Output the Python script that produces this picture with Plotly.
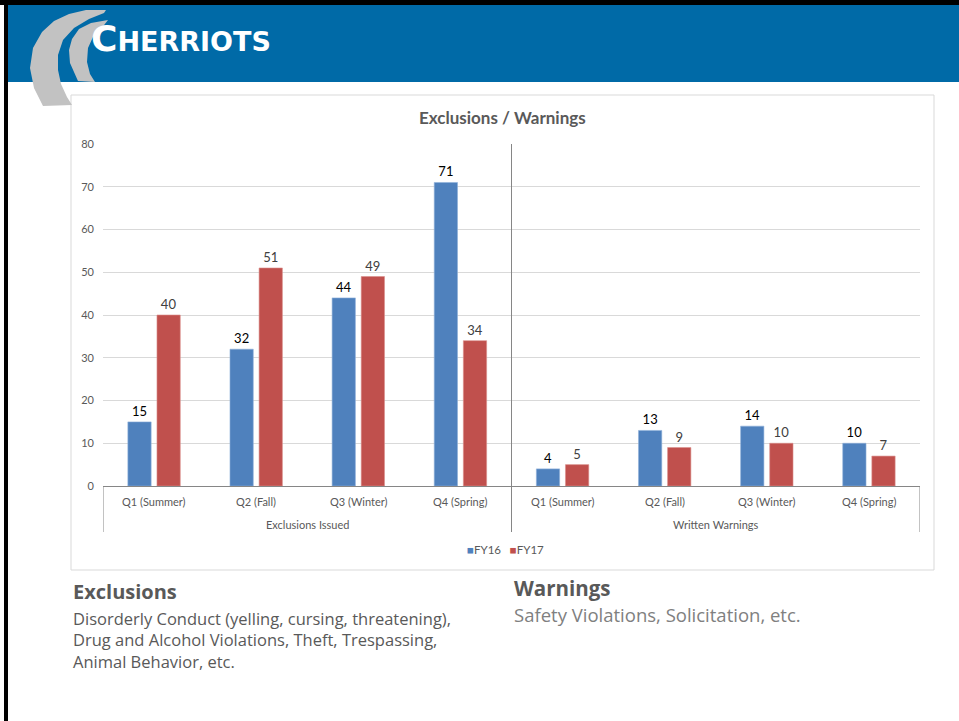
import plotly.graph_objects as go

# ---------------- data ----------------
quarters = ["Q1 (Summer)", "Q2 (Fall)", "Q3 (Winter)", "Q4 (Spring)"]
groups = ["Exclusions Issued", "Written Warnings"]
fy16_exclusions = [15, 32, 44, 71]
fy17_exclusions = [40, 51, 49, 34]
fy16_warnings = [4, 13, 14, 10]
fy17_warnings = [5, 9, 10, 7]
series_names = ["FY16", "FY17"]
series_colors = ["#4F81BD", "#C0504D"]
y_ticks = [0, 10, 20, 30, 40, 50, 60, 70, 80]

W, H = 959, 721


def px(x):
    return x / W


def py(y):
    return 1 - y / H


# unique category ids (group + quarter); displayed labels are added as text below
cat_ids = [f"{g} | {q}" for g in groups for q in quarters]
cat_labels = quarters + quarters
fy16 = fy16_exclusions + fy16_warnings
fy17 = fy17_exclusions + fy17_warnings

fig = go.Figure()
fig.add_trace(go.Bar(
    x=cat_ids, y=fy16, name=series_names[0],
    marker=dict(color=series_colors[0], line=dict(color="#8FB0DA", width=0.6)),
    text=[str(v) for v in fy16], textposition="outside",
    textfont=dict(family="Lato, Open Sans, sans-serif", size=13, color="#000000"),
    cliponaxis=False,
))
fig.add_trace(go.Bar(
    x=cat_ids, y=fy17, name=series_names[1],
    marker=dict(color=series_colors[1], line=dict(color="#DA8E8C", width=0.6)),
    text=[str(v) for v in fy17], textposition="outside",
    textfont=dict(family="Lato, Open Sans, sans-serif", size=13, color="#404040"),
    cliponaxis=False,
))

shapes = []
# black frame lines
shapes.append(dict(type="rect", xref="paper", yref="paper", x0=px(0), x1=px(959), y0=py(0), y1=py(5),
                   fillcolor="#000000", line=dict(width=0), layer="below"))
shapes.append(dict(type="rect", xref="paper", yref="paper", x0=px(4), x1=px(8), y0=py(0), y1=py(721),
                   fillcolor="#000000", line=dict(width=0), layer="below"))
# blue banner
shapes.append(dict(type="rect", xref="paper", yref="paper", x0=px(8), x1=px(959), y0=py(5), y1=py(82),
                   fillcolor="#006AA7", line=dict(width=0), layer="below"))
# chart box
shapes.append(dict(type="rect", xref="paper", yref="paper", x0=px(71), x1=px(934), y0=py(95), y1=py(570),
                   fillcolor="#FFFFFF", line=dict(color="#D9D9D9", width=1), layer="below"))

# group dividers (category boundaries)
n_per_group = len(quarters)
boundaries = [-0.5 + k * n_per_group for k in range(len(groups) + 1)]
for k, b in enumerate(boundaries):
    top = py(144) if 0 < k < len(groups) else py(486)
    shapes.append(dict(type="line", xref="x", yref="paper", x0=b, x1=b, y0=py(532), y1=top,
                       line=dict(color="#868686", width=1)))


def path_from(points):
    return "M " + " L ".join(f"{px(x):.5f},{py(y):.5f}" for x, y in points) + " Z"


# logo crescents (gray swooshes)
big = [(43, 106), (34, 88), (30, 68), (33, 48), (42, 32), (54, 21), (69, 14), (86, 10), (106, 10),
       (104, 13), (89, 19), (74, 28), (63, 40), (58, 55), (58, 70), (61, 84), (67, 97), (72, 105)]
small = [(78, 81), (70, 63), (69, 50), (72, 39), (79, 29), (91, 23), (108, 20),
         (101, 29), (93, 37), (88, 48), (87, 62), (90, 74), (95, 82)]
for pts in (big, small):
    shapes.append(dict(type="path", xref="paper", yref="paper", path=path_from(pts),
                       fillcolor="#C2C2C2", line=dict(width=0), layer="above"))

annotations = []
annotations.append(dict(xref="paper", yref="paper", x=px(89), y=py(39), xanchor="left", yanchor="middle",
                        text="<b><span style='font-size:36px'>C</span>HERRIOTS</b>", showarrow=False,
                        font=dict(family="DejaVu Sans", size=27, color="#FFFFFF")))
annotations.append(dict(xref="paper", yref="paper", x=px(502), y=py(117), xanchor="center", yanchor="middle",
                        text="<b>Exclusions / Warnings</b>", showarrow=False,
                        font=dict(family="Lato, Open Sans, sans-serif", size=17, color="#595959")))
# category labels
for cid, lab in zip(cat_ids, cat_labels):
    annotations.append(dict(xref="x", yref="paper", x=cid, y=py(501), xanchor="center", yanchor="middle",
                            text=lab, showarrow=False,
                            font=dict(family="Lato, Open Sans, sans-serif", size=11, color="#595959")))
# group labels
for k, g in enumerate(groups):
    annotations.append(dict(xref="x", yref="paper", x=(boundaries[k] + boundaries[k + 1]) / 2, y=py(524),
                            xanchor="center", yanchor="middle", text=g, showarrow=False,
                            font=dict(family="Lato, Open Sans, sans-serif", size=11, color="#595959")))
# legend (drawn as text)
annotations.append(dict(xref="paper", yref="paper", x=px(505), y=py(549), xanchor="center", yanchor="middle",
                        text=(f"<span style='color:{series_colors[0]}'>■</span>{series_names[0]}"
                              f"   <span style='color:{series_colors[1]}'>■</span>{series_names[1]}"),
                        showarrow=False,
                        font=dict(family="Lato, Open Sans, sans-serif", size=11.5, color="#595959")))
# bottom texts
annotations.append(dict(xref="paper", yref="paper", x=px(71), y=py(591), xanchor="left", yanchor="middle",
                        text="<b>Exclusions</b>", showarrow=False,
                        font=dict(family="Open Sans", size=20, color="#595959")))
ex_lines = ["Disorderly Conduct (yelling, cursing, threatening),",
            "Drug and Alcohol Violations, Theft, Trespassing,",
            "Animal Behavior, etc."]
annotations.append(dict(xref="paper", yref="paper", x=px(71), y=py(604.5), xanchor="left",
                        yanchor="top", align="left", text="<br>".join(ex_lines), showarrow=False,
                        font=dict(family="Open Sans", size=16.5, color="#595959")))
annotations.append(dict(xref="paper", yref="paper", x=px(512), y=py(588), xanchor="left", yanchor="middle",
                        text="<b>Warnings</b>", showarrow=False,
                        font=dict(family="Open Sans", size=20.5, color="#595959")))
annotations.append(dict(xref="paper", yref="paper", x=px(512), y=py(614.5), xanchor="left", yanchor="middle",
                        text="Safety Violations, Solicitation, etc.", showarrow=False,
                        font=dict(family="Open Sans", size=18.5, color="#808080")))

fig.update_layout(
    width=W, height=H,
    margin=dict(l=0, r=0, t=0, b=0),
    paper_bgcolor="#FFFFFF",
    plot_bgcolor="rgba(0,0,0,0)",
    barmode="group",
    bargap=0.43,
    bargroupgap=0.2,
    showlegend=False,
    shapes=shapes,
    annotations=annotations,
    xaxis=dict(
        type="category",
        categoryorder="array", categoryarray=cat_ids,
        range=[-0.5, len(cat_ids) - 0.5],
        domain=[px(103), px(920)],
        showline=True, linecolor="#868686", linewidth=1,
        showgrid=False, ticks="", showticklabels=False,
        automargin=False,
    ),
    yaxis=dict(
        domain=[py(486), py(144)],
        range=[0, 80], tickvals=y_ticks,
        showgrid=True, gridcolor="#D9D9D9", gridwidth=1,
        zeroline=False, showline=False, ticks="",
        tickfont=dict(family="Lato, Open Sans, sans-serif", size=11, color="#595959"),
        ticklabelstandoff=8,
        automargin=False,
    ),
    font=dict(family="Lato, Open Sans, sans-serif"),
)

fig.write_html("out.html")
